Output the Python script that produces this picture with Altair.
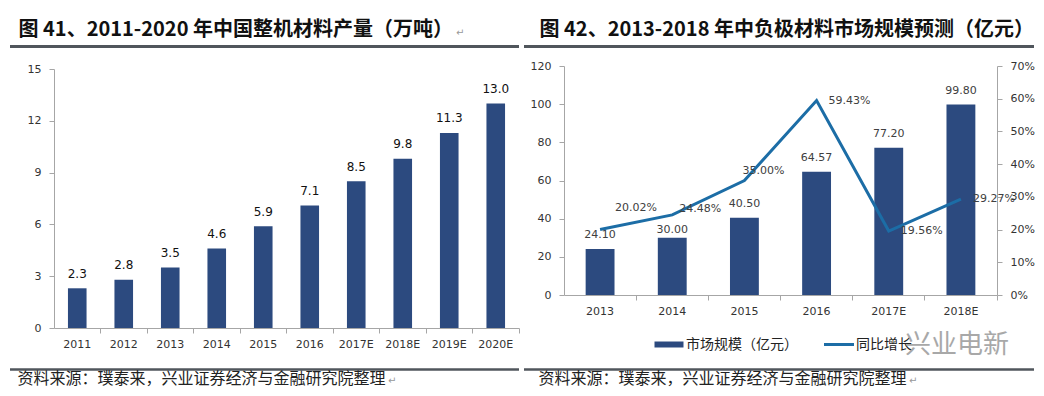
import altair as alt
import pandas as pd

# ---------------- data ----------------
years_left = ["2011", "2012", "2013", "2014", "2015", "2016", "2017E", "2018E", "2019E", "2020E"]
output_left = [2.3, 2.8, 3.5, 4.6, 5.9, 7.1, 8.5, 9.8, 11.3, 13.0]
ticks_left = [0, 3, 6, 9, 12, 15]

years_right = ["2013", "2014", "2015", "2016", "2017E", "2018E"]
market_right = [24.10, 30.00, 40.50, 64.57, 77.20, 99.80]
growth_right = [20.02, 24.48, 35.00, 59.43, 19.56, 29.27]
ticks_market = [0, 20, 40, 60, 80, 100, 120]
ticks_growth = [0, 10, 20, 30, 40, 50, 60, 70]

title_left = "图 41、2011-2020 年中国整机材料产量（万吨）"
title_right = "图 42、2013-2018 年中负极材料市场规模预测（亿元）"
source_text = "资料来源：璞泰来，兴业证券经济与金融研究院整理"
legend_labels = ["市场规模（亿元）", "同比增长"]
watermark_text = "兴业电新"
para_mark = "↵"

# ---------------- styles ----------------
NAVY = "#2C4A7F"
BLUE = "#1C6DA6"
RULE = "#50565C"
AXIS = "#A6A6A6"
LABEL = "#333333"
CJK = "Noto Sans CJK SC"
LAT = "DejaVu Sans"

WL, HL = 465, 259
WR, HR = 433, 226
R_TOP = -3  # right plot's value axis starts slightly above the shared row origin


def deco_text(text, x, y, size, color, weight="normal", font=CJK, align="left", opacity=1):
    return alt.Chart(pd.DataFrame({"t": [text]})).mark_text(
        align=align, baseline="middle", font=font, fontSize=size,
        fontWeight=weight, color=color, opacity=opacity
    ).encode(x=alt.value(x), y=alt.value(y), text="t:N")


def deco_rule(x1, x2, y, width, color, opacity=1):
    return alt.Chart(pd.DataFrame({"k": [0]})).mark_rule(
        color=color, strokeWidth=width, opacity=opacity
    ).encode(x=alt.value(x1), x2=alt.value(x2), y=alt.value(y))


def x_axis():
    return alt.Axis(labelAngle=0, bandPosition=1.75, tickSize=5, tickColor=AXIS,
                    domainColor=AXIS, labelFont=LAT, labelFontSize=11,
                    labelColor=LABEL, labelPadding=5, title=None)


def y_axis(values, orient="left", expr=None):
    kw = dict(values=values, grid=False, tickSize=5, tickColor=AXIS, domainColor=AXIS,
              labelFont=LAT, labelFontSize=11, labelColor=LABEL, labelPadding=8,
              labelOverlap=False, title=None, orient=orient)
    if expr:
        kw["labelExpr"] = expr
    return alt.Axis(**kw)


# ---------------- left panel ----------------
df_l = pd.DataFrame({"year": years_left, "value": output_left})
band_l = alt.Scale(paddingInner=0.6, paddingOuter=0.3)
xl = alt.X("year:N", sort=years_left, title=None, scale=band_l, axis=x_axis())
yl = alt.Y("value:Q", title=None, scale=alt.Scale(domain=[0, 15], nice=False),
           axis=y_axis(ticks_left))

bars_l = alt.Chart(df_l).mark_bar(color=NAVY).encode(x=xl, y=yl)
labels_l = alt.Chart(df_l).mark_text(
    font=LAT, fontSize=12, baseline="alphabetic", dy=-10.5, color="#111111"
).encode(x=xl, y=yl, text=alt.Text("value:Q", format=".1f"))

left = alt.layer(
    deco_rule(-44, WL, -61, 1, "#ffffff", opacity=0),
    bars_l, labels_l,
    deco_text(title_left, -35.5, -39.5, 20, "#111111", weight="bold"),
    deco_text(para_mark, 402, -36, 10, "#999999", font=LAT),
    deco_rule(-44, WL, -22.5, 3, RULE),
    deco_rule(-44, WL, 300.5, 2.5, RULE),
    deco_text(source_text, -36.5, 309.5, 16, "#222222"),
    deco_text(para_mark, 334, 311.5, 10, "#999999", font=LAT),
).properties(width=WL, height=HL)

# ---------------- right panel ----------------
df_r = pd.DataFrame({"year": years_right, "market": market_right, "growth": growth_right})
xr = alt.X("year:N", sort=years_right, title=None,
           scale=alt.Scale(paddingInner=0.6, paddingOuter=0.3), axis=x_axis())
ym = alt.Y("market:Q", title=None,
           scale=alt.Scale(domain=[0, 120], nice=False, range=[HR, R_TOP]),
           axis=y_axis(ticks_market))
yg = alt.Y("growth:Q", title=None,
           scale=alt.Scale(domain=[0, 70], nice=False, range=[HR, R_TOP]),
           axis=y_axis(ticks_growth, orient="right", expr="datum.value + '%'"))

bars_r = alt.Chart(df_r).mark_bar(color=NAVY).encode(x=xr, y=ym)


def bar_label(years, dy):
    return alt.Chart(df_r).transform_filter(
        alt.FieldOneOfPredicate(field="year", oneOf=years)
    ).mark_text(font=LAT, fontSize=11, baseline="alphabetic", dy=dy, color="#404040").encode(
        x=xr, y=ym, text=alt.Text("market:Q", format=".2f"))


bar_layer = alt.layer(
    bars_r,
    bar_label(["2013", "2015", "2016", "2017E", "2018E"], -11),
    bar_label(["2014"], -5),
)

line_r = alt.Chart(df_r).mark_line(color=BLUE, strokeWidth=3).encode(x=xr, y=yg)


def growth_label(years, dx, dy):
    return alt.Chart(df_r).transform_filter(
        alt.FieldOneOfPredicate(field="year", oneOf=years)
    ).transform_calculate(
        lab="format(datum.growth, '.2f') + '%'"
    ).mark_text(font=LAT, fontSize=11, align="left", baseline="middle",
                dx=dx, dy=dy, color="#404040").encode(
        x=xr, y=yg, text="lab:N")


line_layer = alt.layer(
    line_r,
    growth_label(["2013"], 15, -22),
    growth_label(["2014"], 7, -6),
    growth_label(["2015"], -2, -10),
    growth_label(["2016", "2017E", "2018E"], 12, 0),
)

legend_bar = alt.Chart(pd.DataFrame({"k": [0]})).mark_rect(color=NAVY).encode(
    x=alt.value(90.5), x2=alt.value(119.5), y=alt.value(272.5), y2=alt.value(278.5))

right = alt.layer(
    deco_rule(-40, 470, -61, 1, "#ffffff", opacity=0),
    bar_layer, line_layer,
    deco_text(title_right, -24.5, -39.5, 20, "#111111", weight="bold"),
    deco_rule(-40, 470, -22.5, 3, RULE),
    legend_bar,
    deco_text(legend_labels[0], 122, 275.5, 14, "#222222"),
    deco_rule(260, 290, 275.5, 3, BLUE),
    deco_text(legend_labels[1], 292, 275.5, 14, "#222222"),
    deco_text(watermark_text, 341, 276, 26, "#9a9a9a", opacity=0.85),
    deco_rule(-40, 470, 300.5, 2.5, RULE),
    deco_text(source_text, -25.5, 309.5, 16, "#222222"),
    deco_text(para_mark, 345, 311.5, 10, "#999999", font=LAT),
).resolve_scale(y="independent").properties(width=WR, height=HR)

chart = alt.hconcat(left, right, spacing=1).configure_view(stroke=None).properties(
    padding=0, background="#ffffff")

chart.save("out.html", embed_options={"renderer": "svg", "actions": False})
